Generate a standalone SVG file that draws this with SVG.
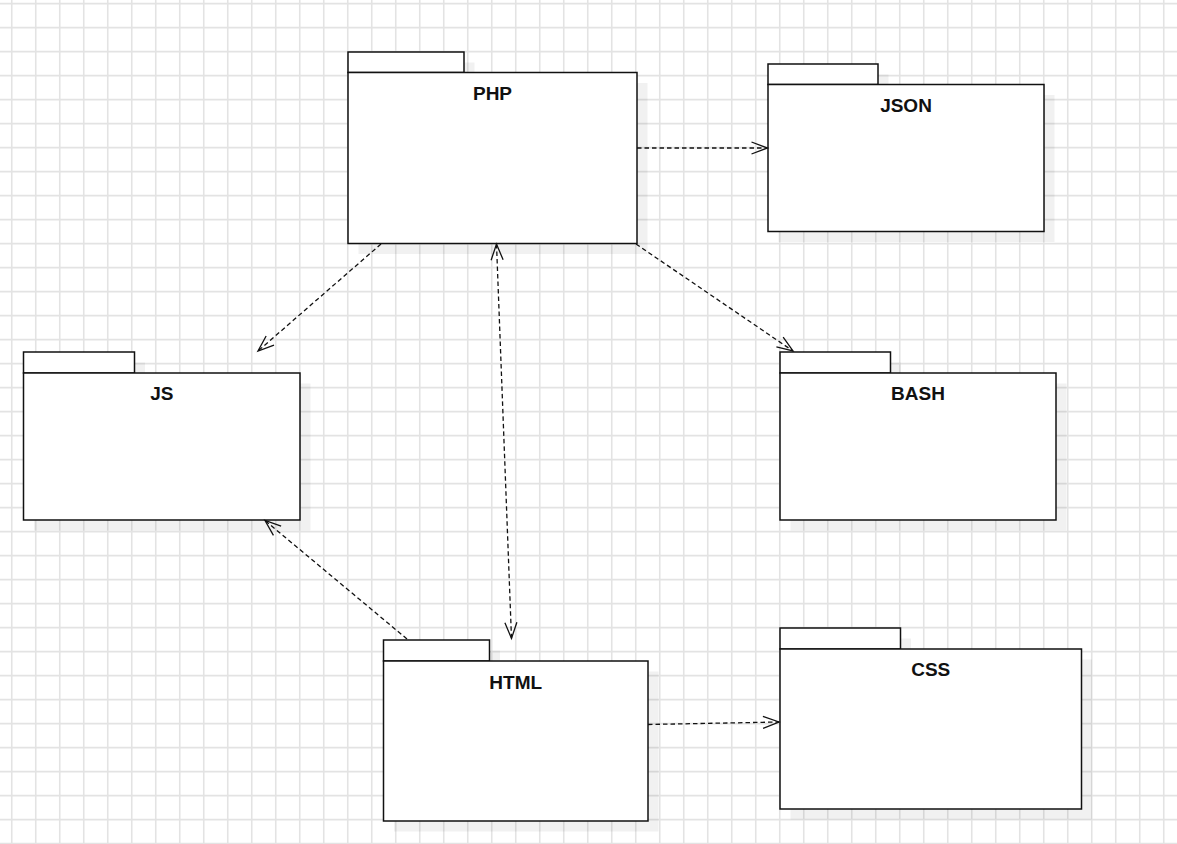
<svg xmlns="http://www.w3.org/2000/svg" width="1177" height="844" viewBox="0 0 1177 844">
  <style>
    .shadow { fill: #000; fill-opacity: 0.055; stroke: none; }
    .pkg { fill: #fff; stroke: #111; stroke-width: 1.5; }
    .label { font-family: "Liberation Sans", Arial, Helvetica, sans-serif; font-size: 19px; font-weight: bold; fill: #111; text-anchor: middle; }
    .dep { fill: none; stroke: #111; stroke-width: 1.3; stroke-dasharray: 4.5 3; }
    .head { fill: none; stroke: #111; stroke-width: 1.3; }
  </style>
  <defs>
    <pattern id="grid" width="24" height="24" patternUnits="userSpaceOnUse">
      <path d="M11.75 0 V24 M0 3.6 H24" fill="none" stroke="#e3e3e3" stroke-width="1.6"/>
    </pattern>
    <marker id="open" markerUnits="userSpaceOnUse" markerWidth="17" markerHeight="14" refX="16" refY="7" orient="auto-start-reverse" overflow="visible">
      <path class="head" d="M0 1 L16 7 L0 13"/>
    </marker>
  </defs>

  <!-- background grid -->
  <rect width="1177" height="844" fill="#fff"/>
  <rect width="1177" height="844" fill="url(#grid)"/>

  <!-- packages -->
  <g id="php">
    <path class="shadow" transform="translate(10.5 10.5)" d="M348 52 H464 V72.5 H637 V243.5 H348 Z"/>
    <rect class="pkg" x="348" y="52" width="116" height="20.5"/>
    <rect class="pkg" x="348" y="72.5" width="289" height="171"/>
    <text class="label" x="492.5" y="100">PHP</text>
  </g>

  <g id="json">
    <path class="shadow" transform="translate(10.5 10.5)" d="M768 64 H878 V84.5 H1044 V231.5 H768 Z"/>
    <rect class="pkg" x="768" y="64" width="110" height="20.5"/>
    <rect class="pkg" x="768" y="84.5" width="276" height="147"/>
    <text class="label" x="906" y="112">JSON</text>
  </g>

  <g id="js">
    <path class="shadow" transform="translate(10.5 10.5)" d="M23.5 352 H134.5 V373 H300 V520 H23.5 Z"/>
    <rect class="pkg" x="23.5" y="352" width="111" height="21"/>
    <rect class="pkg" x="23.5" y="373" width="276.5" height="147"/>
    <text class="label" x="161.75" y="400">JS</text>
  </g>

  <g id="bash">
    <path class="shadow" transform="translate(10.5 10.5)" d="M780 352 H890.5 V373 H1056 V520 H780 Z"/>
    <rect class="pkg" x="780" y="352" width="110.5" height="21"/>
    <rect class="pkg" x="780" y="373" width="276" height="147"/>
    <text class="label" x="918" y="400">BASH</text>
  </g>

  <g id="html">
    <path class="shadow" transform="translate(10.5 10.5)" d="M383.5 640 H489.5 V661 H648 V821 H383.5 Z"/>
    <rect class="pkg" x="383.5" y="640" width="106" height="21"/>
    <rect class="pkg" x="383.5" y="661" width="264.5" height="160"/>
    <text class="label" x="515.75" y="688.5">HTML</text>
  </g>

  <g id="css">
    <path class="shadow" transform="translate(10.5 10.5)" d="M780 628 H900.5 V649 H1081.5 V809 H780 Z"/>
    <rect class="pkg" x="780" y="628" width="120.5" height="21"/>
    <rect class="pkg" x="780" y="649" width="301.5" height="160"/>
    <text class="label" x="930.75" y="676">CSS</text>
  </g>

  <!-- dependencies -->
  <g id="connectors">
    <path class="dep" d="M637 148 L767.5 148" marker-end="url(#open)"/>
    <path class="dep" d="M636 244 L793 351" marker-end="url(#open)"/>
    <path class="dep" d="M381 244 L258 351" marker-end="url(#open)"/>
    <path class="dep" d="M496.5 244 L511.5 638.5" marker-start="url(#open)" marker-end="url(#open)"/>
    <path class="dep" d="M407 639 L265 520.5" marker-end="url(#open)"/>
    <path class="dep" d="M648 724.5 L779 722" marker-end="url(#open)"/>
  </g>
</svg>
